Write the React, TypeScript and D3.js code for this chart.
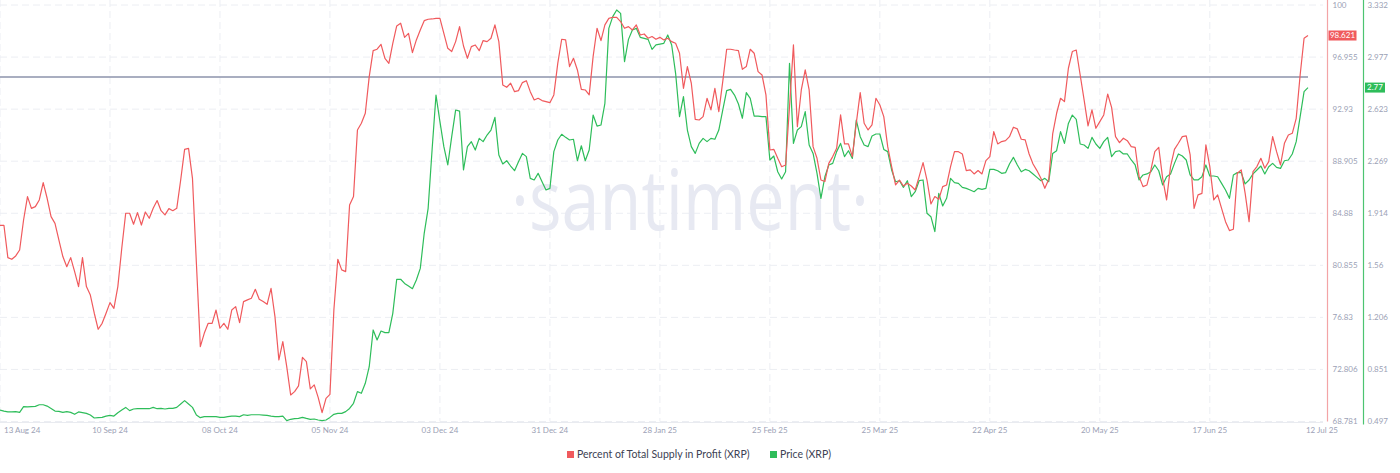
import React from "react";
import * as d3 from "d3";

const startDate = "2024-08-13";

const percentInProfit: number[] = [
  83.95,83.95,81.45,81.32,81.58,82.04,84.36,86.17,85.26,85.39,
  85.91,87.25,86.04,84.62,84.10,82.81,81.53,80.75,81.45,80.37,
  79.21,81.45,79.21,78.56,77.15,75.91,76.37,77.15,77.97,77.53,
  79.21,82.17,84.88,84.88,84.03,84.93,83.97,84.98,84.49,85.26,
  85.86,85.08,84.75,85.24,85.08,85.26,87.45,89.82,89.90,87.58,
  81.01,74.57,75.60,76.37,76.37,77.40,75.99,76.37,75.91,77.40,
  77.66,76.42,78.05,78.18,78.31,79.00,78.23,78.05,77.84,
  79.08,76.89,73.54,74.96,73.02,70.83,71.09,71.53,73.74,73.41,
  71.30,71.61,70.65,69.47,70.57,70.88,77.40,81.32,80.50,80.37,
  85.52,86.17,91.32,91.84,92.61,95.44,97.45,97.56,97.94,96.86,
  96.47,98.02,99.36,99.57,98.48,98.79,97.30,98.28,99.05,99.77,
  99.88,99.90,99.95,99.95,98.79,97.63,97.38,98.15,99.31,97.81,
  96.86,97.76,97.89,97.45,98.23,98.15,98.41,99.44,98.15,94.80,
  94.62,94.93,94.28,94.36,94.98,95.13,94.28,93.64,
  93.77,93.59,93.51,93.43,94.03,96.47,98.33,98.28,96.22,96.86,
  95.96,94.46,94.41,94.03,96.99,99.18,98.23,99.44,99.95,100.03,
  100.03,99.70,99.18,99.31,99.05,99.44,98.66,98.74,98.41,98.54,
  98.33,98.48,98.28,98.41,98.15,98.02,97.25,94.54,96.22,94.93,
  92.14,92.09,92.35,93.77,92.87,94.54,92.74,95.06,97.56,97.56,
  97.50,97.45,96.01,96.22,97.56,97.25,95.83,95.57,94.03,89.77,
  89.82,89.13,88.48,88.61,93.12,97.89,91.58,
  94.41,95.96,94.41,90.03,89.13,87.45,87.33,88.74,89.26,89.90,
  92.48,90.24,90.24,89.26,91.84,94.21,91.84,91.32,91.71,93.77,
  93.25,92.35,90.03,88.49,87.07,87.45,86.99,87.20,86.99,86.68,
  87.71,88.79,87.45,85.60,86.17,85.96,86.94,87.07,88.49,89.64,
  89.64,89.46,88.18,88.23,87.92,88.18,87.92,88.95,89.26,91.19,
  90.24,90.42,90.49,90.80,91.53,91.40,90.60,90.55,89.46,88.69,
  88.18,87.58,86.81,87.51,91.01,92.61,93.77,93.51,
  96.09,97.38,97.50,95.57,93.64,91.63,92.87,91.45,91.96,92.48,
  94.10,93.07,90.80,90.34,90.68,90.49,90.03,89.98,87.71,86.94,
  87.07,88.23,89.64,89.98,87.58,85.91,88.49,89.82,90.29,90.80,
  90.86,89.39,85.26,86.30,86.42,90.16,88.49,85.91,86.30,85.26,
  84.23,83.54,83.64,87.97,88.23,86.42,84.23,88.10,88.49,89.13,
  88.36,88.87,90.80,89.64,88.61,90.29,90.93,91.06,92.22,95.57,
  98.41,98.621,
];

const priceXRP: number[] = [
  0.575,0.568,0.562,0.562,0.564,0.559,0.598,0.596,0.598,0.600,
  0.611,0.611,0.602,0.586,0.568,0.566,0.559,0.564,0.559,0.546,
  0.562,0.557,0.552,0.541,0.521,0.523,0.525,0.534,0.539,0.534,
  0.557,0.575,0.593,0.571,0.582,0.584,0.584,0.584,0.584,0.593,
  0.584,0.586,0.582,0.586,0.586,0.593,0.616,0.639,0.616,0.593,
  0.541,0.523,0.530,0.530,0.530,0.530,0.525,0.525,0.530,0.534,
  0.534,0.530,0.543,0.539,0.543,0.543,0.543,0.541,0.539,
  0.534,0.530,0.530,0.534,0.503,0.512,0.516,0.518,0.525,0.518,
  0.512,0.514,0.507,0.503,0.507,0.525,0.546,0.552,0.552,0.564,
  0.586,0.621,0.700,0.689,0.757,0.870,1.120,1.052,1.113,1.102,
  1.102,1.233,1.465,1.465,1.437,1.419,1.401,1.460,1.539,1.778,
  1.948,2.345,2.719,2.538,2.368,2.243,2.436,2.617,2.610,2.209,
  2.368,2.402,2.345,2.424,2.402,2.447,2.481,2.567,2.311,2.250,
  2.272,2.236,2.204,2.265,2.322,2.300,2.152,2.141,
  2.186,2.129,2.073,2.084,2.334,2.413,2.452,2.431,2.413,2.418,
  2.272,2.374,2.272,2.345,2.583,2.508,2.515,2.663,3.173,3.253,
  3.298,3.275,2.946,3.098,3.162,3.173,3.112,3.105,3.098,3.030,
  3.060,3.066,3.071,3.128,3.060,2.867,2.572,2.708,2.481,2.368,
  2.322,2.390,2.424,2.402,2.424,2.418,2.481,2.617,2.749,2.758,
  2.719,2.658,2.561,2.735,2.697,2.576,2.576,2.572,2.572,2.277,
  2.304,2.197,2.148,2.197,2.935,2.390,2.481,
  2.504,2.606,2.379,2.322,2.186,2.016,2.163,2.243,2.254,2.334,
  2.390,2.300,2.340,2.288,2.549,2.436,2.379,2.368,2.440,2.454,
  2.454,2.349,2.334,2.209,2.129,2.136,2.091,2.136,2.027,2.061,
  2.136,2.141,1.914,1.891,1.789,2.050,1.964,2.016,2.152,2.123,
  2.118,2.091,2.084,2.073,2.061,2.084,2.077,2.084,2.213,2.213,
  2.204,2.186,2.191,2.250,2.295,2.243,2.197,2.213,2.204,2.182,
  2.159,2.136,2.152,2.129,2.322,2.340,2.470,2.390,
  2.526,2.583,2.554,2.386,2.379,2.356,2.431,2.386,2.356,2.402,
  2.431,2.300,2.334,2.340,2.318,2.318,2.277,2.243,2.141,2.175,
  2.182,2.197,2.243,2.204,2.107,2.163,2.182,2.254,2.318,2.304,
  2.277,2.175,2.141,2.141,2.163,2.243,2.168,2.168,2.163,2.118,
  2.073,2.016,2.175,2.191,2.191,2.114,2.141,2.182,2.209,2.236,
  2.182,2.231,2.254,2.227,2.220,2.272,2.277,2.318,2.402,2.572,
  2.742,2.77,
];

const dateTicks = [
  "2024-08-13","2024-09-10","2024-10-08","2024-11-05","2024-12-03","2024-12-31",
  "2025-01-28","2025-02-25","2025-03-25","2025-04-22","2025-05-20","2025-06-17","2025-07-12",
];
const dateTickLabels = [
  "13 Aug 24","10 Sep 24","08 Oct 24","05 Nov 24","03 Dec 24","31 Dec 24",
  "28 Jan 25","25 Feb 25","25 Mar 25","22 Apr 25","20 May 25","17 Jun 25","12 Jul 25",
];
const percentTicks = [68.781, 72.806, 76.83, 80.855, 84.88, 88.905, 92.93, 96.955, 100.98];
const percentTickLabels = ["68.781","72.806","76.83","80.855","84.88","88.905","92.93","96.955","100"];
const priceTicks = [0.497, 0.851, 1.206, 1.56, 1.914, 2.269, 2.623, 2.977, 3.332];
const priceTickLabels = ["0.497","0.851","1.206","1.56","1.914","2.269","2.623","2.977","3.332"];
const referenceLevel = 95.41;
const seriesNames = ["Percent of Total Supply in Profit (XRP)", "Price (XRP)"];

const RED = "#f05a5d";
const GREEN = "#2ebd5a";
const FONT = "Lato, 'Open Sans', sans-serif";

export default function App() {
  const parse = d3.utcParse("%Y-%m-%d");
  const start = parse(startDate) as Date;
  const dates = percentInProfit.map((_, i) => d3.utcDay.offset(start, i));
  const plotRight = 1308;
  const plotTop = 5;
  const plotBottom = 421.5;

  const x = d3.scaleUtc().domain([start, dates[dates.length - 1]]).range([0, plotRight]);
  const yP = d3.scaleLinear().domain([percentTicks[0], percentTicks[percentTicks.length - 1]]).range([plotBottom, plotTop]);
  const yR = d3.scaleLinear().domain([priceTicks[0], priceTicks[priceTicks.length - 1]]).range([plotBottom, plotTop]);

  const lineP = d3.line<number>().x((_, i) => x(dates[i])).y((d) => yP(d));
  const lineR = d3.line<number>().x((_, i) => x(dates[i])).y((d) => yR(d));

  const lastP = percentInProfit[percentInProfit.length - 1];
  const lastR = priceXRP[priceXRP.length - 1];
  const redAxisX = 1327.5;
  const greenAxisX = 1363.5;

  return (
    <svg width={1400} height={473} style={{ position: "absolute", left: 0, top: 0, background: "#fff" }} fontFamily={FONT}>
      {/* horizontal grid */}
      {percentTicks.map((t, i) => (
        <line key={"hg" + i} x1={0} x2={1323} y1={yP(t)} y2={yP(t)} stroke="#eceef3" strokeWidth={1} strokeDasharray="7,4" />
      ))}
      {/* vertical grid */}
      {dateTicks.slice(0, -1).map((t, i) => {
        const xx = x(parse(t) as Date);
        return <line key={"vg" + i} x1={xx} x2={xx} y1={0} y2={plotBottom} stroke="#eceef3" strokeWidth={1} strokeDasharray="7,4" />;
      })}
      <line x1={0} x2={1323} y1={plotBottom + 1} y2={plotBottom + 1} stroke="#e9ebf0" strokeWidth={1} />

      {/* watermark */}
      <text x={690} y={230} textAnchor="middle" fontSize={84} fontWeight={400} fill="#e7e9f2" textLength={358} lengthAdjust="spacingAndGlyphs" fontFamily="'Open Sans', Lato, sans-serif">
        ·santiment·
      </text>

      {/* reference line */}
      <line x1={0} x2={plotRight} y1={yP(referenceLevel)} y2={yP(referenceLevel)} stroke="#8d93ab" strokeWidth={1.5} />

      {/* series */}
      <path d={lineR(priceXRP) || ""} fill="none" stroke={GREEN} strokeWidth={1.2} strokeLinejoin="round" />
      <path d={lineP(percentInProfit) || ""} fill="none" stroke={RED} strokeWidth={1.2} strokeLinejoin="round" />

      {/* right axes */}
      <line x1={redAxisX} x2={redAxisX} y1={0} y2={plotBottom} stroke="#f3a4a6" strokeWidth={1.2} />
      <line x1={greenAxisX} x2={greenAxisX} y1={0} y2={plotBottom + 3} stroke="#4cc471" strokeWidth={1.2} />
      {percentTicks.map((t, i) => (
        <text key={"pt" + i} x={redAxisX + 5} y={yP(t)} dy="0.35em" fontSize={8} fill="#9ba1b5">
          {percentTickLabels[i]}
        </text>
      ))}
      {priceTicks.map((t, i) => (
        <text key={"rt" + i} x={greenAxisX + 4} y={yR(t)} dy="0.35em" fontSize={8} fill="#9ba1b5">
          {priceTickLabels[i]}
        </text>
      ))}
      {/* value badges */}
      <rect x={redAxisX + 1} y={yP(lastP) - 5} width={28} height={10} fill={RED} />
      <text x={redAxisX + 15} y={yP(lastP)} dy="0.35em" textAnchor="middle" fontSize={8} fill="#fff">
        {lastP.toFixed(3)}
      </text>
      <rect x={greenAxisX + 1.5} y={yR(lastR) - 5} width={20} height={10} fill={GREEN} />
      <text x={greenAxisX + 11.5} y={yR(lastR)} dy="0.35em" textAnchor="middle" fontSize={8} fill="#fff">
        {lastR.toFixed(2)}
      </text>

      {/* x axis labels */}
      {dateTicks.map((t, i) => {
        const xx = x(parse(t) as Date);
        const first = i === 0;
        const last = i === dateTicks.length - 1;
        return (
          <text
            key={"xt" + i}
            x={first ? 4 : last ? 1338 : xx}
            y={430}
            dy="0.35em"
            textAnchor={first ? "start" : last ? "end" : "middle"}
            fontSize={8}
            fill="#9ba1b5"
          >
            {dateTickLabels[i]}
          </text>
        );
      })}

      {/* legend */}
      <rect x={567} y={451} width={7} height={7} fill={RED} />
      <text x={577} y={454.5} dy="0.35em" fontSize={10.5} fill="#3d4253">
        {seriesNames[0]}
      </text>
      <rect x={770} y={451} width={7} height={7} fill={GREEN} />
      <text x={780} y={454.5} dy="0.35em" fontSize={10.5} fill="#3d4253">
        {seriesNames[1]}
      </text>
    </svg>
  );
}
